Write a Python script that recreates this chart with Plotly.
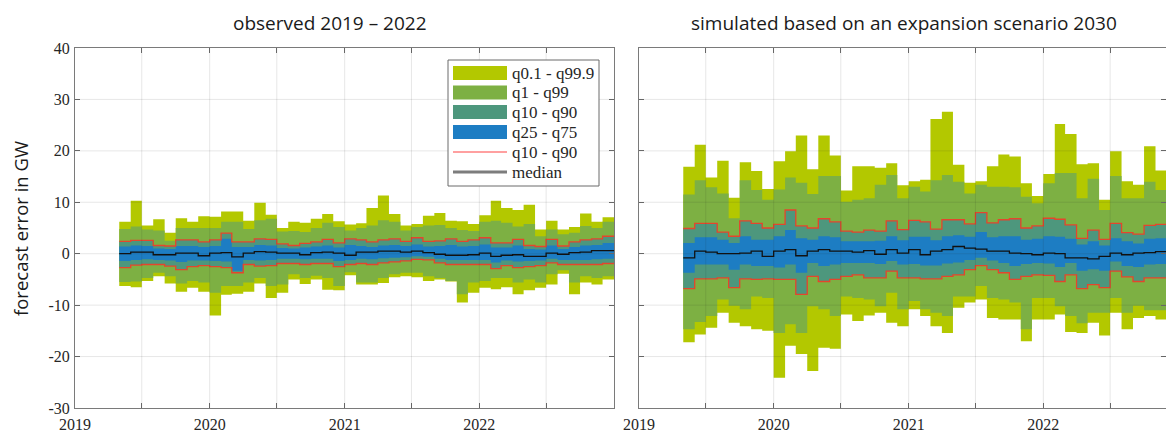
import plotly.graph_objects as go
import pandas as pd

W, H = 1166, 432

# ---------------- data ----------------
months = pd.date_range("2019-05-01", "2022-12-01", freq="MS")   # 44 monthly bins
period_end = pd.Timestamp("2023-01-01")

# observed 2019 - 2022 (GW)
obs_q001 = [-6.3, -6.5, -5.3, -4.4, -5.8, -7.4, -6.6, -7.4, -12.0, -8.0, -7.8, -7.4, -5.8, -8.6, -7.6, -5.0,
            -5.9, -5.0, -7.0, -7.1, -4.2, -6.0, -6.0, -5.7, -4.6, -4.4, -4.6, -5.3, -5.0, -5.4, -9.5, -7.6,
            -6.6, -6.9, -6.5, -7.9, -7.1, -6.6, -6.0, -3.9, -7.9, -5.6, -6.0, -5.0]
obs_q1 = [-5.5, -5.4, -4.7, -3.7, -4.4, -5.8, -5.3, -5.6, -7.6, -6.3, -6.3, -5.6, -4.7, -6.3, -6.0, -4.0,
          -4.7, -4.3, -4.7, -6.3, -3.6, -5.6, -5.6, -4.7, -4.0, -3.7, -3.7, -4.4, -4.7, -5.3, -7.9, -5.6,
          -5.3, -4.7, -4.7, -5.6, -5.0, -5.6, -4.0, -3.2, -5.6, -4.4, -4.7, -4.4]
obs_q10 = [-2.7, -2.2, -2.1, -2.1, -2.4, -3.1, -2.5, -2.3, -2.5, -2.7, -3.7, -2.1, -2.4, -2.3, -1.9, -1.9,
           -2.1, -1.9, -1.9, -2.5, -2.1, -1.9, -2.1, -1.8, -1.6, -1.4, -1.1, -1.2, -1.8, -2.1, -2.1, -2.1,
           -2.1, -2.9, -2.3, -2.7, -2.5, -2.3, -1.8, -2.1, -2.1, -2.1, -2.1, -1.9]
obs_q25 = [-1.4, -1.2, -1.1, -1.2, -1.3, -1.6, -1.3, -1.3, -1.4, -1.5, -3.3, -1.2, -1.3, -1.2, -1.0, -1.0,
           -1.1, -1.0, -1.0, -1.4, -1.2, -1.0, -1.1, -0.9, -0.8, -0.7, -0.5, -0.6, -1.0, -1.2, -1.2, -1.2,
           -1.2, -1.7, -1.3, -1.5, -1.4, -1.3, -1.0, -1.2, -1.2, -1.2, -1.1, -1.0]
obs_q50 = [0.0, 0.3, 0.3, -0.2, -0.2, 0.1, 0.1, -0.4, 0.1, 0.2, -0.6, 0.1, 0.4, 0.3, 0.1, 0.1,
           -0.2, 0.2, 0.3, 0.1, -0.3, 0.3, 0.3, 0.5, 0.5, 0.3, 0.5, 0.2, -0.1, -0.3, -0.3, -0.2,
           0.1, -0.5, -0.3, -0.2, -0.5, -0.5, 0.1, -0.1, 0.2, 0.3, 0.6, 0.6]
obs_q75 = [1.4, 1.6, 1.5, 1.0, 0.9, 1.5, 1.5, 1.3, 1.5, 2.9, 1.3, 1.3, 1.7, 1.6, 1.1, 1.0,
           1.2, 1.4, 1.6, 1.2, 1.7, 1.5, 1.3, 1.6, 1.7, 1.5, 1.8, 1.4, 1.5, 1.7, 1.4, 1.5,
           1.8, 1.2, 1.2, 1.6, 0.9, 0.8, 1.6, 0.9, 1.3, 1.6, 1.7, 2.1]
obs_q90 = [2.4, 2.6, 2.6, 1.6, 1.5, 2.7, 2.7, 2.3, 2.7, 4.0, 2.3, 2.3, 2.9, 2.8, 1.9, 1.6,
           2.0, 2.3, 2.8, 2.1, 2.9, 2.7, 2.3, 2.7, 2.9, 2.4, 3.1, 2.4, 2.5, 2.9, 2.4, 2.7,
           3.1, 2.1, 2.1, 2.8, 1.6, 1.4, 2.8, 1.5, 2.3, 2.7, 2.9, 3.4]
obs_q99 = [4.8, 5.3, 4.7, 4.5, 2.5, 5.0, 5.0, 5.0, 5.0, 6.2, 6.2, 4.8, 6.5, 6.8, 4.3, 4.4,
           4.2, 5.0, 6.0, 5.2, 4.5, 5.0, 5.5, 6.5, 6.2, 4.5, 5.2, 5.5, 5.6, 5.0, 4.6, 4.4,
           6.2, 6.4, 6.0, 5.3, 5.8, 3.4, 4.7, 3.8, 4.1, 5.4, 5.0, 6.2]
obs_q999 = [6.2, 10.3, 5.5, 6.7, 4.1, 6.9, 6.2, 7.3, 7.2, 8.2, 8.2, 6.4, 9.9, 7.6, 5.0, 6.2,
            6.0, 6.8, 7.7, 6.3, 5.7, 5.9, 8.9, 11.3, 7.7, 5.5, 5.8, 7.4, 7.9, 6.4, 6.3, 5.8,
            7.5, 10.3, 8.9, 8.5, 9.5, 4.7, 6.4, 4.7, 5.2, 7.8, 6.2, 7.1]

# simulated, expansion scenario 2030 (GW)
sim_q001 = [-17.2, -15.7, -14.4, -11.5, -13.4, -14.1, -14.7, -15.0, -24.1, -17.9, -19.5, -22.8, -18.3, -18.5, -11.8, -13.1,
            -12.0, -11.5, -13.4, -14.1, -10.8, -12.1, -14.1, -15.4, -10.5, -9.5, -8.9, -12.5, -12.8, -12.8, -17.0, -12.8,
            -12.8, -11.8, -15.2, -15.4, -13.4, -15.9, -11.5, -14.7, -12.5, -12.1, -12.8, -12.8]
sim_q1 = [-14.7, -13.3, -12.1, -8.9, -10.1, -10.8, -8.3, -8.6, -15.4, -13.7, -15.4, -10.2, -10.8, -12.1, -8.3, -8.6,
          -8.9, -10.2, -7.6, -10.8, -9.2, -10.8, -11.5, -12.1, -8.3, -8.3, -6.3, -8.6, -8.9, -9.5, -14.7, -8.6,
          -8.6, -10.2, -12.1, -13.5, -11.5, -11.5, -8.6, -11.5, -10.1, -11.0, -11.0, -11.0]
sim_q10 = [-6.8, -4.9, -4.9, -4.7, -6.6, -4.9, -5.0, -4.9, -5.0, -5.0, -7.9, -4.4, -5.4, -5.0, -4.4, -4.1,
           -4.7, -4.7, -3.4, -4.7, -4.7, -4.9, -4.9, -4.4, -4.1, -3.1, -2.3, -3.1, -3.7, -5.0, -4.4, -4.1,
           -4.2, -5.4, -4.1, -6.8, -6.0, -6.6, -3.4, -4.5, -5.4, -4.7, -4.7, -4.7]
sim_q25 = [-3.7, -2.1, -2.1, -2.1, -3.1, -2.1, -2.4, -2.4, -2.7, -2.1, -3.7, -1.8, -2.4, -2.1, -1.8, -1.8,
           -1.8, -2.0, -1.4, -2.1, -2.0, -2.3, -2.3, -1.9, -1.7, -1.2, -0.8, -1.3, -1.8, -2.4, -2.0, -1.8,
           -1.9, -2.6, -1.8, -3.3, -3.0, -3.3, -1.5, -2.4, -2.6, -2.1, -2.0, -2.0]
sim_q50 = [-0.8, 0.5, 0.3, 0.0, 0.0, 0.1, 0.5, -0.5, 0.5, 0.8, -0.4, 0.5, 0.8, 0.5, 0.5, 0.3,
           0.6, -0.1, 0.8, 0.1, 0.8, -0.2, 0.5, 0.8, 1.4, 1.1, 0.9, 0.5, 0.5, 0.1, 0.0, -0.2,
           0.1, 0.0, -0.8, -0.8, -1.0, -0.5, 0.1, -0.2, 0.1, 0.2, 0.4, 0.4]
sim_q75 = [2.1, 3.2, 3.2, 2.7, 2.1, 3.4, 2.7, 2.7, 3.4, 4.6, 3.0, 2.7, 3.4, 3.2, 2.4, 2.4,
           2.4, 2.5, 3.4, 2.6, 3.3, 3.3, 2.6, 3.4, 3.6, 3.3, 4.2, 3.2, 3.4, 3.4, 2.7, 2.9,
           3.4, 3.3, 2.9, 1.8, 2.4, 1.6, 3.0, 2.4, 2.0, 2.9, 3.0, 3.0]
sim_q90 = [4.9, 5.9, 5.9, 4.2, 3.4, 6.4, 5.9, 5.0, 5.7, 8.5, 5.4, 5.0, 6.8, 6.2, 4.4, 4.2,
           4.6, 4.4, 6.4, 4.7, 6.5, 6.2, 4.8, 6.6, 6.6, 5.8, 8.0, 6.0, 6.6, 6.8, 5.0, 5.4,
           6.9, 6.7, 5.6, 3.0, 4.6, 2.8, 5.9, 4.1, 3.8, 5.5, 5.7, 5.7]
sim_q99 = [11.5, 14.3, 12.9, 11.7, 6.9, 14.3, 12.4, 10.5, 12.5, 14.8, 13.8, 11.6, 15.1, 15.1, 10.1, 10.5,
           10.8, 13.4, 15.3, 10.8, 13.0, 12.1, 14.3, 15.3, 14.0, 11.7, 13.4, 13.0, 13.0, 12.9, 11.1, 9.8,
           13.7, 15.7, 15.7, 10.8, 14.6, 8.5, 15.1, 10.8, 10.8, 14.0, 12.4, 13.0]
sim_q999 = [16.9, 21.2, 14.8, 18.1, 10.9, 17.8, 16.1, 12.6, 18.0, 19.9, 23.0, 16.4, 23.0, 19.1, 12.3, 17.0,
            17.0, 16.7, 17.6, 13.3, 14.1, 14.4, 26.2, 27.6, 17.3, 13.8, 14.1, 17.0, 19.3, 18.9, 13.7, 11.2,
            15.5, 25.2, 23.3, 17.4, 17.6, 10.5, 19.9, 14.1, 13.4, 20.9, 16.2, 16.0]

y_tickvals = [-30, -20, -10, 0, 10, 20, 30, 40]
y_ticktext = ["-30", "-20", "-10", "0", "10", "20", "30", "40"]
x_tickvals = ["2019-01-01", "2019-07-01", "2020-01-01", "2020-07-01", "2021-01-01",
              "2021-07-01", "2022-01-01", "2022-07-01", "2023-01-01"]
x_ticktext = ["2019", "", "2020", "", "2021", "", "2022", "", ""]

titles = ["observed 2019 \u2013 2022", "simulated based on an expansion scenario 2030"]
y_title = "forecast error in GW"
legend_labels = ["q0.1 - q99.9", "q1 - q99", "q10 - q90", "q25 - q75", "q10 - q90", "median"]

# ---------------- style ----------------
C_Y = "#b3c800"
C_G = "#7db043"
C_T = "#4d977d"
C_B = "#1d7dc3"
C_RED = "#e5452c"
C_MED = "#111111"
GRID = "rgba(40,40,40,0.11)"
SERIF = "Liberation Serif"
SANS = "Open Sans"


def fx(px):
    return px / W


def fy(py):
    return 1 - py / H


def step(vals):
    return list(months) + [period_end], list(vals) + [vals[-1]]


fig = go.Figure()


def add_band(lo, hi, color, xa, ya):
    x, ylo = step(lo)
    _, yhi = step(hi)
    fig.add_trace(go.Scatter(x=x, y=ylo, mode="lines", line=dict(width=0, shape="hv"),
                             hoverinfo="skip", showlegend=False, xaxis=xa, yaxis=ya))
    fig.add_trace(go.Scatter(x=x, y=yhi, mode="lines", line=dict(width=0, shape="hv"),
                             fill="tonexty", fillcolor=color, hoverinfo="skip",
                             showlegend=False, xaxis=xa, yaxis=ya))


def add_line(vals, color, width, xa, ya):
    x, y = step(vals)
    fig.add_trace(go.Scatter(x=x, y=y, mode="lines", line=dict(color=color, width=width, shape="hv"),
                             hoverinfo="skip", showlegend=False, xaxis=xa, yaxis=ya))


panels = [
    ("x", "y", obs_q001, obs_q1, obs_q10, obs_q25, obs_q50, obs_q75, obs_q90, obs_q99, obs_q999),
    ("x2", "y2", sim_q001, sim_q1, sim_q10, sim_q25, sim_q50, sim_q75, sim_q90, sim_q99, sim_q999),
]
for xa, ya, q001, q1, q10, q25, q50, q75, q90, q99, q999 in panels:
    for arr in (q001, q1, q10, q25, q50, q75, q90, q99, q999):
        assert len(arr) == len(months), len(arr)
    add_band(q001, q999, C_Y, xa, ya)
    add_band(q1, q99, C_G, xa, ya)
    add_band(q10, q90, C_T, xa, ya)
    add_band(q25, q75, C_B, xa, ya)
    add_line(q90, C_RED, 1.3, xa, ya)
    add_line(q10, C_RED, 1.3, xa, ya)
    add_line(q50, C_MED, 1.3, xa, ya)

# ---------------- axes ----------------
left_px = (75, 614)
right_px = (639, W)
top_px, bottom_px = 48, 408
start = pd.Timestamp("2019-01-01")
span = period_end - start
right_end = start + span * ((right_px[1] - right_px[0]) / (left_px[1] - left_px[0]))


def xaxis_cfg(dom, rng):
    return dict(domain=dom, type="date", range=rng, tickmode="array", tickvals=x_tickvals,
                ticktext=x_ticktext, ticks="inside", ticklen=5, tickcolor="#6e6e6e",
                showline=True, linecolor="#7a7a7a", linewidth=1, mirror="ticks", automargin=False,
                showgrid=False, zeroline=False,
                tickfont=dict(family=SERIF, size=16, color="#262626"), ticklabelstandoff=2)


def yaxis_cfg(anchor, labels):
    return dict(domain=[fy(bottom_px), fy(top_px)], anchor=anchor, range=[-30, 40], tickmode="array",
                tickvals=y_tickvals, ticktext=y_ticktext, showticklabels=labels, automargin=False,
                ticks="inside", ticklen=5, tickcolor="#6e6e6e", showline=True, linecolor="#7a7a7a",
                linewidth=1, mirror="ticks", showgrid=False, zeroline=False,
                tickfont=dict(family=SERIF, size=16, color="#262626"), ticklabelstandoff=1)


fig.update_layout(
    width=W, height=H, margin=dict(l=0, r=0, t=0, b=0, pad=0), autosize=False,
    paper_bgcolor="white", plot_bgcolor="white", showlegend=False,
    xaxis=dict(xaxis_cfg([fx(left_px[0]), fx(left_px[1])], [start, period_end]), anchor="y"),
    xaxis2=dict(xaxis_cfg([fx(right_px[0]), 1.0], [start, right_end]), anchor="y2"),
    yaxis=yaxis_cfg("x", True),
    yaxis2=yaxis_cfg("x2", False),
)

# ---------------- grid on top of the bands (as in the original) ----------------
shapes = []
for xa, ya, x_end in (("x", "y", period_end), ("x2", "y2", right_end)):
    for tv in x_tickvals:
        t = pd.Timestamp(tv)
        if start < t < x_end:
            shapes.append(dict(type="line", xref=xa, yref=f"{ya} domain", x0=t, x1=t, y0=0, y1=1,
                               line=dict(color=GRID, width=1), layer="above"))
    for v in y_tickvals[1:-1]:
        shapes.append(dict(type="line", xref=f"{xa} domain", yref=ya, x0=0, x1=1, y0=v, y1=v,
                           line=dict(color=GRID, width=1), layer="above"))

# ---------------- titles ----------------
ann = [
    dict(text=titles[0], x=fx(330), y=fy(23), xref="paper", yref="paper", showarrow=False,
         xanchor="center", yanchor="middle", font=dict(family=SANS, size=19, color="#1a1a1a")),
    dict(text=titles[1], x=fx(904), y=fy(23), xref="paper", yref="paper", showarrow=False,
         xanchor="center", yanchor="middle", font=dict(family=SANS, size=19, color="#1a1a1a")),
    dict(text=y_title, x=fx(20), y=fy(229), xref="paper", yref="paper", showarrow=False,
         textangle=-90, xanchor="center", yanchor="middle", font=dict(family=SANS, size=18.5, color="#1a1a1a")),
]

# ---------------- legend (drawn) ----------------
shapes.append(dict(type="rect", xref="paper", yref="paper", x0=fx(448), x1=fx(599), y0=fy(186), y1=fy(60),
                   line=dict(color="#6a6a6a", width=1), fillcolor="white", layer="above"))
row_y = [73, 92.5, 112, 132, 152, 172]
sw_colors = [C_Y, C_G, C_T, C_B]
for i, lab in enumerate(legend_labels):
    yc = row_y[i]
    if i < 4:
        shapes.append(dict(type="rect", xref="paper", yref="paper", x0=fx(453), x1=fx(507),
                           y0=fy(yc + 7), y1=fy(yc - 7), line=dict(width=0), fillcolor=sw_colors[i],
                           layer="above"))
    elif i == 4:
        shapes.append(dict(type="line", xref="paper", yref="paper", x0=fx(453), x1=fx(507),
                           y0=fy(yc), y1=fy(yc), line=dict(color="#ff8080", width=1.5), layer="above"))
    else:
        shapes.append(dict(type="line", xref="paper", yref="paper", x0=fx(453), x1=fx(507),
                           y0=fy(yc), y1=fy(yc), line=dict(color="#7d7d7d", width=3), layer="above"))
    ann.append(dict(text=lab, x=fx(510), y=fy(yc), xref="paper", yref="paper", showarrow=False,
                    xanchor="left", yanchor="middle", font=dict(family=SERIF, size=17, color="#262626")))

fig.update_layout(annotations=ann, shapes=shapes)
# remove the browser's default 8px page margin so the figure sits at the window's top-left corner
fig.write_html("out.html", config={"displayModeBar": False},
               post_script="document.body.style.margin='0';")
